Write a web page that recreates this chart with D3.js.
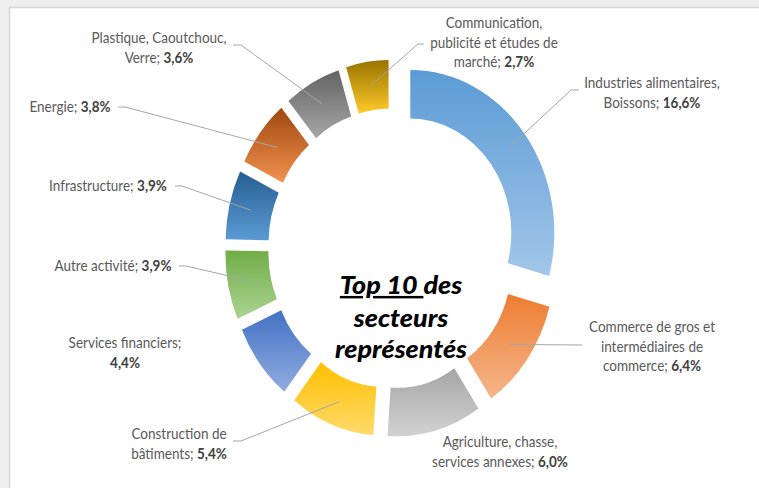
<!DOCTYPE html>
<html>
<head>
<meta charset="utf-8">
<script src="https://cdn.jsdelivr.net/npm/d3@7"></script>
<style>
  html, body { margin: 0; padding: 0; background: #f0f0f0; }
  svg { display: block; }
</style>
</head>
<body>
<svg id="chart" width="759" height="488"></svg>
<script>
// Sector shares (percent of all companies), top 10, clockwise from 12 o'clock
const categories = [
  "Industries alimentaires, Boissons",
  "Commerce de gros et intermédiaires de commerce",
  "Agriculture, chasse, services annexes",
  "Construction de bâtiments",
  "Services financiers",
  "Autre activité",
  "Infrastructure",
  "Energie",
  "Plastique, Caoutchouc, Verre",
  "Communication, publicité et études de marché"
];
const values = [16.6, 6.4, 6.0, 5.4, 4.4, 3.9, 3.9, 3.8, 3.6, 2.7];

// Label text broken into lines; the value is appended to the last line
const labelLines = [
  ["Industries alimentaires,", "Boissons;"],
  ["Commerce de gros et", "intermédiaires de", "commerce;"],
  ["Agriculture, chasse,", "services annexes;"],
  ["Construction de", "bâtiments;"],
  ["Services financiers;", ""],
  ["Autre activité;"],
  ["Infrastructure;"],
  ["Energie;"],
  ["Plastique, Caoutchouc,", "Verre;"],
  ["Communication,", "publicité et études de", "marché;"]
];

const titleLines = [["Top 10 ", "des"], ["secteurs"], ["représentés"]];

// Gradient fills, top colour then bottom colour
const fillTop = ["#5b9bd5", "#ed7d31", "#a5a5a5", "#ffc000", "#4472c4", "#70ad47", "#255e91", "#9e480e", "#636363", "#997300"];
const fillBottom = ["#a2c6e9", "#f5b68c", "#d2d2d2", "#ffda6b", "#91acdf", "#aad391", "#5b9bd5", "#f39250", "#a6a6a6", "#ffca2a"];

// ---- layout ----
const W = 759, H = 488;
const cx = 392, cy = 248.5;      // ring centre
const sy = 1.13;                 // vertical stretch of the whole drawing
const outerR = 144, innerR = 101, explode = 23;
const lineGap = 19.7;
const textColor = "#595959", valueColor = "#404040", leaderColor = "#a6a6a6";

// label placement: centre x, baseline of first line, leader anchor near the label
const labelLayout = [
  { x: 652, y: 88,  anchor: [579, 90], stub: [571, 90] },
  { x: 652, y: 332, anchor: [582, 345], stub: [582, 345] },
  { x: 500, y: 447, anchor: null },
  { x: 179, y: 439, anchor: [233, 441], stub: [241, 441] },
  { x: 125, y: 348, anchor: null },
  { x: 113, y: 271, anchor: [179, 266], stub: [186, 266] },
  { x: 108, y: 191, anchor: [175, 186], stub: [182, 186] },
  { x: 70,  y: 112, anchor: [118, 107], stub: [125, 107] },
  { x: 159, y: 43,  anchor: [233, 45], stub: [241, 45] },
  { x: 494, y: 28,  anchor: [424, 44], stub: [418, 44] }
];

const fmt = v => d3.format(".1f")(v).replace(".", ",") + "%";

const svg = d3.select("#chart");

// page background and chart area frame
svg.append("rect").attr("width", W).attr("height", H).attr("fill", "#efefef");
svg.append("rect").attr("x", 9.5).attr("y", 7.5).attr("width", W + 10).attr("height", H + 10)
  .attr("fill", "#ffffff").attr("stroke", "#d6d6d6").attr("stroke-width", 1.5);

const defs = svg.append("defs");
values.forEach((v, i) => {
  const g = defs.append("linearGradient").attr("id", "grad" + i)
    .attr("x1", 0).attr("y1", 0).attr("x2", 0).attr("y2", 1);
  g.append("stop").attr("offset", "0%").attr("stop-color", fillTop[i]);
  g.append("stop").attr("offset", "100%").attr("stop-color", fillBottom[i]);
});

const pie = d3.pie().sort(null).value(d => d);
const arcs = pie(values);
const arc = d3.arc().innerRadius(innerR).outerRadius(outerR);

const offsetOf = a => {
  const m = (a.startAngle + a.endAngle) / 2;
  return [explode * Math.sin(m), -explode * Math.cos(m)];
};

const ring = svg.append("g").attr("transform", `translate(${cx},${cy}) scale(1,${sy})`);
ring.selectAll("path").data(arcs).join("path")
  .attr("transform", d => { const o = offsetOf(d); return `translate(${o[0]},${o[1]})`; })
  .attr("d", arc)
  .attr("fill", (d, i) => `url(#grad${i})`);

// leader lines from the label to the middle of each slice
const leaders = svg.append("g").attr("fill", "none").attr("stroke", leaderColor).attr("stroke-width", 1);
arcs.forEach((a, i) => {
  const L = labelLayout[i];
  if (!L.anchor) return;
  const c = arc.centroid(a), o = offsetOf(a);
  const px = cx + c[0] + o[0], py = cy + sy * (c[1] + o[1]);
  leaders.append("path").attr("d", d3.line()([L.anchor, L.stub, [px, py]]));
});

// data labels
const labels = svg.append("g")
  .attr("font-family", "Lato, 'Open Sans', sans-serif")
  .attr("font-size", 13.5).attr("fill", textColor).attr("text-anchor", "middle");
labelLines.forEach((lines, i) => {
  const L = labelLayout[i];
  lines.forEach((ln, j) => {
    const t = labels.append("text")
      .attr("transform", `translate(${L.x},${L.y + j * lineGap}) scale(1,${sy})`);
    const last = j === lines.length - 1;
    if (ln) t.append("tspan").text(last ? ln + " " : ln);
    if (last) t.append("tspan").attr("font-weight", "bold").attr("fill", valueColor).text(fmt(values[i]));
  });
});

// centre title
const title = svg.append("g")
  .attr("font-family", "Lato, 'Open Sans', sans-serif")
  .attr("font-size", 24).attr("font-weight", 900).attr("font-style", "italic")
  .attr("fill", "#000").attr("text-anchor", "middle");
const titleBase = [294, 327, 358];
titleLines.forEach((parts, j) => {
  const t = title.append("text").attr("xml:space", "preserve")
    .attr("transform", `translate(401,${titleBase[j]}) scale(1.12,1.03)`);
  parts.forEach((p, k) => {
    const s = t.append("tspan").text(p);
    if (j === 0 && k === 0) s.attr("text-decoration", "underline");
  });
});
</script>
</body>
</html>
